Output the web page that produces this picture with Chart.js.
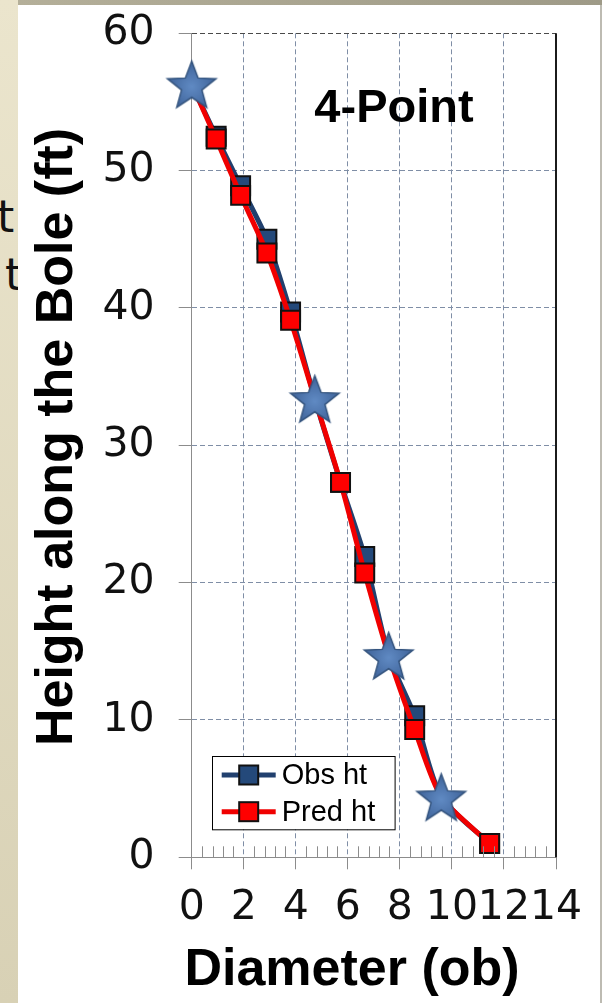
<!DOCTYPE html>
<html>
<head>
<meta charset="utf-8">
<title>Bole taper – 4-point fit</title>
<script src="https://cdn.jsdelivr.net/npm/chart.js@4.4.1/dist/chart.umd.min.js"></script>
<style>
  html, body { margin: 0; padding: 0; }
  body { width: 602px; height: 1003px; position: relative; overflow: hidden; background: #fff; }
  #strip-left { position: absolute; left: 0; top: 0; width: 18px; height: 1003px;
                background: linear-gradient(#ebe5cd, #d8d1b5); overflow: hidden; }
  #strip-top { position: absolute; left: 18px; top: 0; width: 584px; height: 5px;
               background: linear-gradient(90deg, #b4af99, #9e9a87); }
  #edge-right { position: absolute; left: 600px; top: 5px; width: 2px; height: 998px; background: #bdbbb2; }
  #panel { position: absolute; left: 18px; top: 5px; width: 582px; height: 998px; background: #fff; }
  .frag { position: absolute; font: 44px 'DejaVu Sans', sans-serif; line-height: 44px; color: #111; white-space: nowrap; }
</style>
</head>
<body>
<div id="strip-left">
  <span class="frag" style="left:-3px; top:195px">t</span>
  <span class="frag" style="left:5px; top:253px">t</span>
</div>
<div id="strip-top"></div>
<div id="edge-right"></div>
<div id="panel"><canvas id="taper" width="582" height="998"></canvas></div>

<script>
// ---- data -------------------------------------------------------------
const diameters   = [0, 0.94, 1.88, 2.89, 3.80, 4.73, 5.72, 6.65, 7.57, 8.57, 9.59, 11.45];
const obsHeights  = [56.3, 52.5, 48.9, 45.0, 39.7, 33.4, 27.3, 21.9, 14.7, 10.3, 4.4, 1.0];
const predHeights = [56.3, 52.3, 48.2, 44.0, 39.1, 33.4, 27.3, 20.7, 14.7, 9.3, 4.4, 1.0];

// the four measured points used by the fit
const fitDiameters = [0, 4.73, 7.57, 9.59];
const fitHeights   = [56.3, 33.4, 14.7, 4.4];

const xTicks = [0, 2, 4, 6, 8, 10, 12, 14];
const yTicks = [0, 10, 20, 30, 40, 50, 60];

const seriesLabels = ['Obs ht', 'Pred ht', '4-Point'];

// ---- helpers ----------------------------------------------------------
const toXY = (xs, ys) => xs.map((x, i) => ({ x: x, y: ys[i] }));
const isFitPoint = (i) => fitDiameters.includes(diameters[i]);

// five-pointed star sprite used as a point style
function makeStar(R) {
  const size = Math.ceil(R * 2 + 6);
  const c = document.createElement('canvas');
  c.width = size; c.height = size;
  const g = c.getContext('2d');
  const cx = size / 2, cy = size / 2 + R * 0.1;
  const r = R * 0.42;
  g.beginPath();
  for (let k = 0; k < 10; k++) {
    const rad = (k % 2 === 0) ? R : r;
    const a = -Math.PI / 2 + k * Math.PI / 5;
    const px = cx + rad * Math.cos(a), py = cy + rad * Math.sin(a);
    k === 0 ? g.moveTo(px, py) : g.lineTo(px, py);
  }
  g.closePath();
  const grad = g.createRadialGradient(cx, cy, 1, cx, cy, R);
  grad.addColorStop(0, '#5f89c2');
  grad.addColorStop(1, '#3e6298');
  g.fillStyle = grad;
  g.fill();
  g.lineWidth = 1.5;
  g.strokeStyle = '#34547e';
  g.stroke();
  return c;
}
const starSprite = makeStar(25.5);

// ---- decorations drawn on top of the chart ------------------------------
const taperDecor = {
  id: 'taperDecor',
  afterDraw(chart, args, o) {
    const { ctx, chartArea: a } = chart;
    const x = chart.scales.x, y = chart.scales.y;
    ctx.save();

    // minor tick marks along the diameter axis, pointing into the plot
    ctx.strokeStyle = '#8c8c8c';
    ctx.lineWidth = 1;
    ctx.beginPath();
    for (let v = x.min; v <= x.max + 1e-9; v += o.minorStep) {
      const onMajor = Math.abs(v / 2 - Math.round(v / 2)) < 1e-6;
      if (onMajor) continue;
      const px = Math.round(x.getPixelForValue(v)) + 0.5;
      ctx.moveTo(px, a.bottom);
      ctx.lineTo(px, a.bottom - o.minorLen);
    }
    ctx.stroke();

    // right-hand frame of the plot
    ctx.strokeStyle = '#1b1b1b';
    ctx.lineWidth = 2;
    ctx.beginPath();
    ctx.moveTo(x.getPixelForValue(x.max), y.getPixelForValue(y.max));
    ctx.lineTo(x.getPixelForValue(x.max), y.getPixelForValue(y.min));
    ctx.stroke();

    // panel label
    ctx.fillStyle = '#000';
    ctx.font = 'bold 47px "Liberation Sans", Arial, sans-serif';
    ctx.textAlign = 'center';
    ctx.textBaseline = 'middle';
    ctx.fillText(o.panelLabel, o.panelX, o.panelY);

    // axis titles
    ctx.font = 'bold 52px "Liberation Sans", Arial, sans-serif';
    ctx.fillText(o.xTitle, o.xTitleX, o.xTitleY);
    ctx.save();
    ctx.translate(o.yTitleX, o.yTitleY);
    ctx.rotate(-Math.PI / 2);
    ctx.fillText(o.yTitle, 0, 0);
    ctx.restore();

    // legend box
    const L = o.legend;
    ctx.fillStyle = '#fff';
    ctx.fillRect(L.x, L.y, L.w, L.h);
    ctx.strokeStyle = '#000';
    ctx.lineWidth = 1;
    ctx.strokeRect(Math.round(L.x) + 0.5, Math.round(L.y) + 0.5, L.w, L.h);
    const entries = chart.data.datasets
      .filter(d => d.legendRank !== undefined)
      .sort((p, q) => p.legendRank - q.legendRank);
    entries.forEach((d, i) => {
      const cy = L.y + L.rowTop + i * L.rowGap;
      ctx.strokeStyle = d.borderColor;
      ctx.lineWidth = d.borderWidth;
      ctx.beginPath();
      ctx.moveTo(L.x + L.lineStart, cy);
      ctx.lineTo(L.x + L.lineEnd, cy);
      ctx.stroke();
      const mx = L.x + (L.lineStart + L.lineEnd) / 2;
      const s = L.marker;
      ctx.fillStyle = d.pointBackgroundColor;
      ctx.fillRect(mx - s / 2, cy - s / 2, s, s);
      ctx.strokeStyle = d.pointBorderColor;
      ctx.lineWidth = 2;
      ctx.strokeRect(mx - s / 2, cy - s / 2, s, s);
      ctx.fillStyle = '#000';
      ctx.font = '29px "Liberation Sans", Arial, sans-serif';
      ctx.textAlign = 'left';
      ctx.textBaseline = 'middle';
      ctx.fillText(d.label, L.x + L.textStart, cy + 1);
    });
    ctx.restore();
  }
};

const squareRadius = 13.4;
const tickFont = { family: '"DejaVu Sans", sans-serif', size: 41 };

new Chart(document.getElementById('taper'), {
  type: 'scatter',
  data: {
    datasets: [
      {
        label: seriesLabels[2],
        data: toXY(fitDiameters, fitHeights),
        pointStyle: starSprite,
        pointRadius: 26,
        pointHoverRadius: 26,
        showLine: false,
        clip: false,
        order: 0
      },
      {
        label: seriesLabels[1],
        data: toXY(diameters, predHeights),
        showLine: true,
        borderColor: '#f00000',
        borderWidth: 5,
        tension: 0.25,
        pointStyle: 'rect',
        pointRadius: (c) => isFitPoint(c.dataIndex) ? 0 : squareRadius,
        pointBackgroundColor: '#ff0000',
        pointBorderColor: '#111111',
        pointBorderWidth: 2,
        clip: false,
        order: 1,
        legendRank: 1
      },
      {
        label: seriesLabels[0],
        data: toXY(diameters, obsHeights),
        showLine: true,
        borderColor: '#21406e',
        borderWidth: 5,
        tension: 0.25,
        pointStyle: 'rect',
        pointRadius: (c) => isFitPoint(c.dataIndex) ? 0 : squareRadius,
        pointBackgroundColor: '#24497a',
        pointBorderColor: '#111111',
        pointBorderWidth: 2,
        clip: false,
        order: 2,
        legendRank: 0
      }
    ]
  },
  options: {
    responsive: false,
    animation: false,
    devicePixelRatio: 1,
    layout: { padding: { top: 28.3, right: 44, left: 0, bottom: 0 } },
    plugins: {
      legend: { display: false },
      tooltip: { enabled: false },
      taperDecor: {
        minorStep: 0.4,
        minorLen: 11,
        panelLabel: '4-Point',
        panelX: 376, panelY: 104,
        xTitle: 'Diameter (ob)',
        xTitleX: 334, xTitleY: 966,
        yTitle: 'Height along the Bole (ft)',
        yTitleX: 40, yTitleY: 432,
        legend: {
          x: 193.7, y: 751, w: 182.6, h: 73.3,
          rowTop: 19, rowGap: 36.7,
          lineStart: 10, lineEnd: 64, marker: 19,
          textStart: 70
        }
      }
    },
    scales: {
      x: {
        type: 'linear',
        min: xTicks[0],
        max: xTicks[xTicks.length - 1],
        afterBuildTicks: (s) => { s.ticks = xTicks.map(v => ({ value: v })); },
        afterFit: (s) => { s.height = 145.7; s.paddingLeft = 0; s.paddingRight = 0; },
        ticks: {
          color: '#111',
          font: tickFont,
          padding: 14.5,
          maxRotation: 0,
          autoSkip: false
        },
        grid: {
          color: (c) => (c.tick && c.tick.value === xTicks[xTicks.length - 1]) ? 'rgba(0,0,0,0)' : '#7f8ea6',
          lineWidth: 1,
          tickLength: 12,
          tickColor: '#8c8c8c',
          tickWidth: 1
        },
        border: { display: true, color: '#8c8c8c', width: 1, dash: [5, 3] }
      },
      y: {
        type: 'linear',
        min: yTicks[0],
        max: yTicks[yTicks.length - 1],
        afterBuildTicks: (s) => { s.ticks = yTicks.map(v => ({ value: v })); },
        afterFit: (s) => { s.width = 173.7; s.paddingTop = 0; s.paddingBottom = 0; },
        ticks: {
          color: '#111',
          font: tickFont,
          padding: 24,
          autoSkip: false
        },
        grid: {
          color: (c) => (c.tick && c.tick.value === yTicks[yTicks.length - 1]) ? '#4a4a4a' : '#7f8ea6',
          lineWidth: 1,
          tickLength: 13,
          tickColor: '#8c8c8c',
          tickWidth: 1
        },
        border: { display: true, color: '#8c8c8c', width: 1, dash: [5, 3] }
      }
    }
  },
  plugins: [taperDecor]
});
</script>
</body>
</html>
